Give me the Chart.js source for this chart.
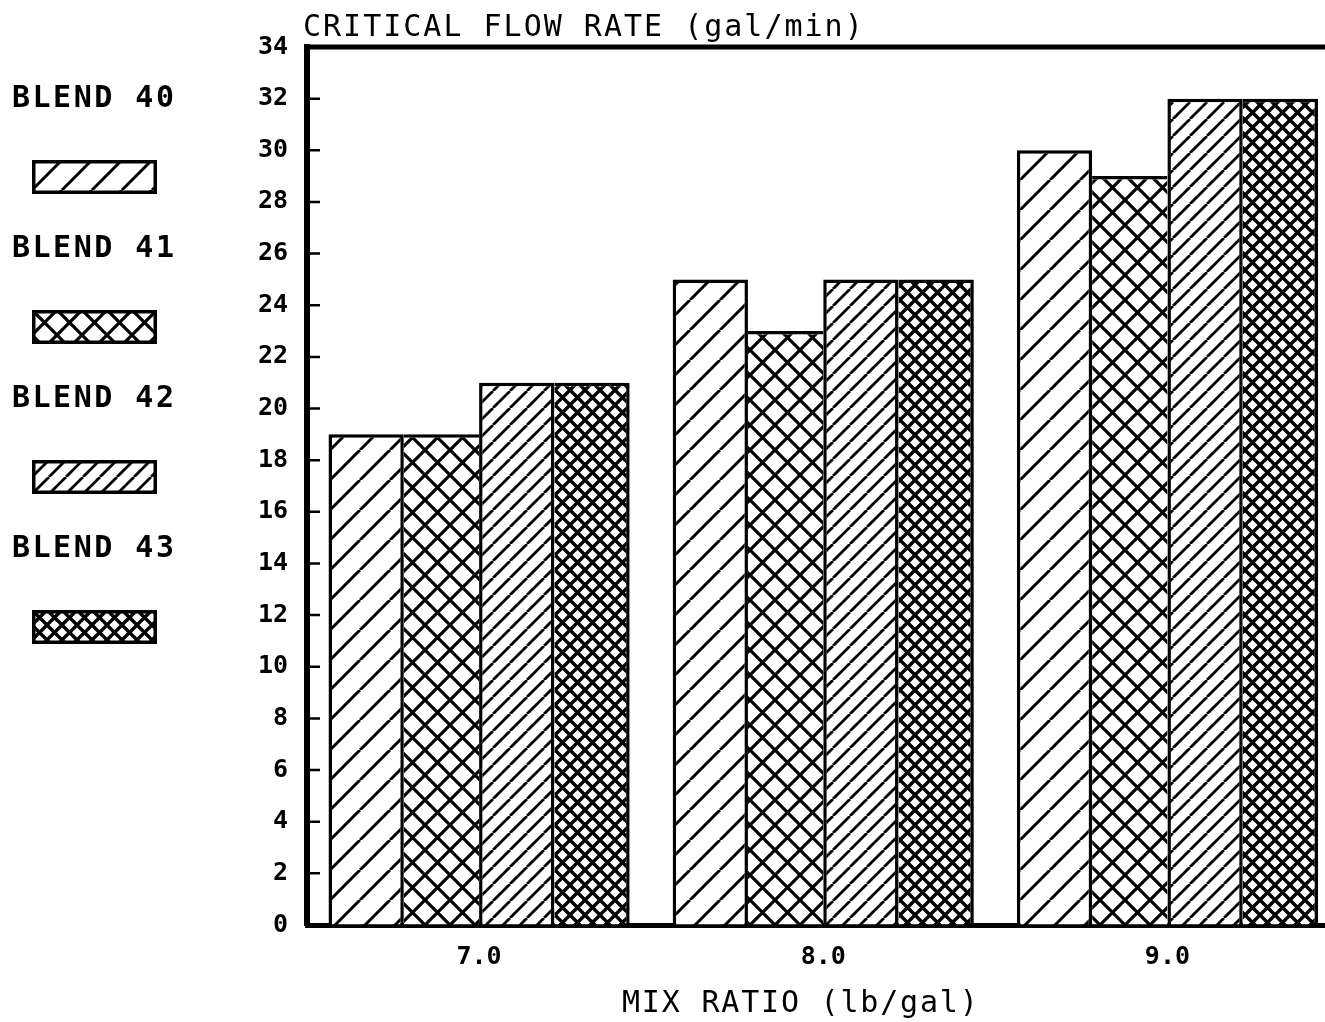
<!DOCTYPE html>
<html>
<head>
<meta charset="utf-8">
<script src="https://cdn.jsdelivr.net/npm/chart.js@4/dist/chart.umd.min.js"></script>
<style>
	html, body { margin: 0; padding: 0; background: #fff; overflow: hidden; }
	#wrap { position: relative; width: 1325px; height: 1022px; overflow: hidden; }
	#chart { position: absolute; left: 0; top: 0; }
	.txt {
		position: absolute; white-space: nowrap; color: #000;
		font-family: 'DejaVu Sans Mono', monospace; font-size: 30px; line-height: 30px;
	}
	#title { left: 303px; top: 11px; letter-spacing: 2px; }
	#xtitle { left: 622px; top: 987px; letter-spacing: 1.8px; }
	.legend-label { left: 12px; font-weight: bold; letter-spacing: 2.5px; }
	.legend-box { position: absolute; left: 32px; }
</style>
</head>
<body>
<div id="wrap">
	<canvas id="chart" width="1345" height="1022"></canvas>
	<div class="txt" id="title">CRITICAL FLOW RATE (gal/min)</div>
	<div class="txt" id="xtitle">MIX RATIO (lb/gal)</div>
</div>
<script>
// data
const mixRatios = ['7.0', '8.0', '9.0'];
const blendNames = ['BLEND 40', 'BLEND 41', 'BLEND 42', 'BLEND 43'];
const blend40 = [19, 25, 30];
const blend41 = [19, 23, 29];
const blend42 = [21, 25, 32];
const blend43 = [21, 25, 32];
const yMax = 34;
const yStep = 2;

const allSeries = [blend40, blend41, blend42, blend43];

// hatch tiles: period in px, line width, crosshatch or not
function makeHatch(period, lineW, cross) {
	const c = document.createElement('canvas');
	c.width = c.height = period;
	const g = c.getContext('2d');
	g.fillStyle = '#fff';
	g.fillRect(0, 0, period, period);
	g.strokeStyle = '#000';
	g.lineWidth = lineW;
	g.beginPath();
	for (const k of [-period, 0, period]) {
		g.moveTo(k, period);
		g.lineTo(k + period, 0);
		if (cross) {
			g.moveTo(k, 0);
			g.lineTo(k + period, period);
		}
	}
	g.stroke();
	return g.createPattern(c, 'repeat');
}

const patterns = [
	makeHatch(30, 3, false),
	makeHatch(25, 3.2, true),
	makeHatch(17, 2.8, false),
	makeHatch(15, 3.4, true)
];

// shared edges are drawn once, by the taller bar
function edgeWidths(ctx) {
	const d = ctx.datasetIndex, i = ctx.dataIndex;
	const v = allSeries[d][i];
	const last = allSeries.length - 1;
	const right = (d === last || v >= allSeries[d + 1][i]) ? 3.5 : 0;
	const left = (d === 0 || v > allSeries[d - 1][i]) ? 3.5 : 0;
	return { top: 3.5, left: left, right: right, bottom: 0 };
}

// legend on the left
const wrap = document.getElementById('wrap');
blendNames.forEach(function (name, i) {
	const lab = document.createElement('div');
	lab.className = 'txt legend-label';
	lab.style.top = (82 + i * 150) + 'px';
	lab.textContent = name;
	wrap.appendChild(lab);

	const box = document.createElement('canvas');
	box.className = 'legend-box';
	box.width = 125;
	box.height = 34;
	box.style.top = (160 + i * 150) + 'px';
	const g = box.getContext('2d');
	g.fillStyle = patterns[i];
	g.fillRect(0, 0, 125, 34);
	g.strokeStyle = '#000';
	g.lineWidth = 3.5;
	g.strokeRect(1.75, 1.75, 121.5, 30.5);
	wrap.appendChild(box);
});

// inward y ticks + top frame line
const framePlugin = {
	id: 'frame',
	afterDatasetsDraw(chart) {
		const c = chart.ctx;
		const y = chart.scales.y;
		const area = chart.chartArea;
		c.save();
		c.strokeStyle = '#000';
		c.lineWidth = 2.5;
		c.beginPath();
		y.ticks.forEach(function (t) {
			if (t.value === 0 || t.value === yMax) return;
			const py = y.getPixelForValue(t.value);
			c.moveTo(area.left, py);
			c.lineTo(area.left + 13, py);
		});
		c.stroke();
		c.lineWidth = 5;
		c.beginPath();
		const top = y.getPixelForValue(yMax);
		c.moveTo(area.left - 3, top);
		c.lineTo(chart.width, top);
		c.stroke();
		c.restore();
	}
};

const tickFont = { family: 'DejaVu Sans Mono', size: 25, weight: 'bold' };

const canvas = document.getElementById('chart');
const myChart = new Chart(canvas, {
	type: 'bar',
	data: {
		labels: mixRatios,
		datasets: blendNames.map(function (name, i) {
			return {
				label: name,
				data: allSeries[i],
				backgroundColor: patterns[i],
				borderColor: '#000',
				borderWidth: edgeWidths,
				borderSkipped: false,
				categoryPercentage: 0.875,
				barPercentage: 1
			};
		})
	},
	options: {
		responsive: false,
		animation: false,
		devicePixelRatio: 1,
		layout: { padding: { top: 47, right: 5.5, left: 0, bottom: 0 } },
		plugins: {
			legend: { display: false },
			title: { display: false },
			tooltip: { enabled: false }
		},
		scales: {
			x: {
				afterFit: function (scale) { scale.height = 97; },
				grid: { display: true, drawOnChartArea: false, drawTicks: false },
				border: { display: true, color: '#000', width: 5 },
				ticks: { color: '#000', font: tickFont, padding: 17 }
			},
			y: {
				min: 0,
				max: yMax,
				afterFit: function (scale) { scale.width = 307; },
				grid: { display: true, drawOnChartArea: false, drawTicks: false },
				border: { display: true, color: '#000', width: 6 },
				ticks: { stepSize: yStep, color: '#000', font: tickFont, padding: 19 }
			}
		}
	},
	plugins: [framePlugin]
});
</script>
</body>
</html>
